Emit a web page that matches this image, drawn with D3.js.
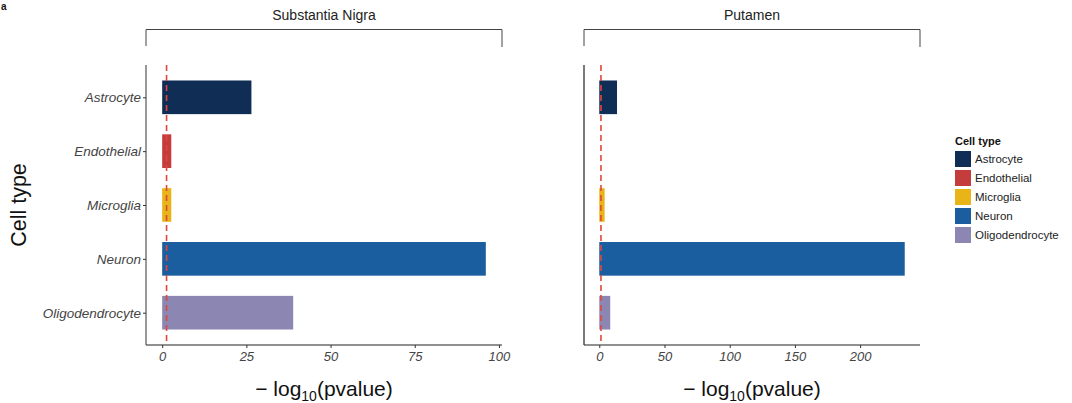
<!DOCTYPE html>
<html>
<head>
<meta charset="utf-8">
<script src="https://cdn.jsdelivr.net/npm/d3@7"></script>
<style>
  body { margin: 0; background: #fff; }
  svg { display: block; }
  text { font-family: "Liberation Sans", Arial, Helvetica, sans-serif; }
</style>
</head>
<body>
<svg id="chart" width="1072" height="403"></svg>
<script>
// Cell-type enrichment: -log10(p) per region
const cellTypes = ["Astrocyte", "Endothelial", "Microglia", "Neuron", "Oligodendrocyte"];
const regions = ["Substantia Nigra", "Putamen"];
const nigraValues = [26.5, 2.7, 2.7, 96.1, 38.9];
const putamenValues = [13.6, 0, 4.1, 234.2, 8.4];
const nigraTicks = [0, 25, 50, 75, 100];
const putamenTicks = [0, 50, 100, 150, 200];
const threshold = -Math.log10(0.05);
const cellColors = ["#0f2d55", "#c43c3c", "#e8b417", "#1b5e9f", "#8c86b2"];

const svg = d3.select("#chart");
const color = d3.scaleOrdinal().domain(cellTypes).range(cellColors);

const yTop = 65, yBottom = 345;
// discrete axis with 0.6-unit padding on each side (ggplot style)
const y = d3.scalePoint().domain(cellTypes).range([yTop, yBottom]).padding(0.6);
const barH = y.step() * 0.625;

const panels = [
  { title: regions[0], values: nigraValues, ticks: nigraTicks, x0: 146, x1: 502, axisColor: "#555" },
  { title: regions[1], values: putamenValues, ticks: putamenTicks, x0: 584, x1: 920, axisColor: "#222" }
];

// panel tag in the top-left corner
svg.append("text").attr("x", 1).attr("y", 10)
  .attr("font-size", 10).attr("font-weight", "bold").attr("fill", "#111").text("a");

panels.forEach(p => {
  const maxV = d3.max(p.values);
  const pad = maxV * 0.05;
  const x = d3.scaleLinear().domain([-pad, maxV + pad]).range([p.x0, p.x1]);
  const g = svg.append("g");

  // strip title with bracket
  const cx = (p.x0 + p.x1) / 2;
  g.append("text").attr("x", cx).attr("y", 20).attr("text-anchor", "middle")
    .attr("font-family", "Open Sans, sans-serif").attr("font-size", 14).attr("fill", "#222")
    .text(p.title);
  g.append("path")
    .attr("d", `M${p.x0},46V29.5H${p.x1}V47`)
    .attr("fill", "none").attr("stroke", "#444").attr("stroke-width", 1);

  // bars
  g.selectAll("rect.bar").data(cellTypes.map((c, i) => ({ c, v: p.values[i] })).filter(d => d.v > 0))
    .enter().append("rect").attr("class", "bar")
    .attr("x", x(0)).attr("width", d => x(d.v) - x(0))
    .attr("y", d => y(d.c) - barH / 2).attr("height", barH)
    .attr("fill", d => color(d.c));

  // significance threshold
  g.append("line").attr("x1", x(threshold)).attr("x2", x(threshold))
    .attr("y1", yTop).attr("y2", yBottom)
    .attr("stroke", "#e0463c").attr("stroke-width", 1.6).attr("stroke-dasharray", "6,4");

  // x axis
  const xAxis = d3.axisBottom(x).tickValues(p.ticks).tickSize(3).tickPadding(4).tickSizeOuter(0);
  const gx = g.append("g").attr("transform", `translate(0,${yBottom})`).call(xAxis);
  gx.select(".domain").attr("stroke", "#222").attr("stroke-width", 1.2)
    .attr("d", `M${p.x0},0H${p.x1}`);
  gx.selectAll(".tick line").attr("stroke", "#333");
  gx.selectAll(".tick text").attr("font-size", 13).attr("font-style", "italic")
    .attr("fill", "#444").attr("font-family", "Liberation Sans, Arial, sans-serif");

  // y axis
  const gy = g.append("g").attr("transform", `translate(${p.x0},0)`)
    .call(d3.axisLeft(y).tickSize(3).tickPadding(2).tickSizeOuter(0));
  gy.select(".domain").attr("stroke", p.axisColor).attr("stroke-width", 1.2)
    .attr("d", `M0,${yTop}V${yBottom}`);
  gy.selectAll(".tick line").attr("stroke", "#333");
  if (p === panels[0]) {
    gy.selectAll(".tick text").attr("font-size", 13.5).attr("font-style", "italic")
      .attr("fill", "#444").attr("font-family", "Liberation Sans, Arial, sans-serif");
  } else {
    gy.selectAll(".tick").remove();
  }

  // x title: -log10(pvalue)
  const t = g.append("text").attr("x", cx).attr("y", 396).attr("text-anchor", "middle")
    .attr("font-size", 21).attr("fill", "#111");
  t.append("tspan").text("\u2212 log");
  t.append("tspan").attr("font-size", 14).attr("dy", 5).text("10");
  t.append("tspan").attr("dy", -5).text("(pvalue)");
});

// y title
svg.append("text").attr("transform", "translate(26,205) rotate(-90)")
  .attr("text-anchor", "middle").attr("font-size", 21.5).attr("fill", "#111").text("Cell type");

// legend
const lg = svg.append("g").attr("transform", "translate(955,0)");
lg.append("text").attr("x", 0).attr("y", 145).attr("font-size", 11).attr("font-weight", "bold")
  .attr("fill", "#111").text("Cell type");
const items = lg.selectAll("g.item").data(cellTypes).enter().append("g")
  .attr("transform", (d, i) => `translate(0,${151 + i * 19})`);
items.append("rect").attr("width", 16).attr("height", 16).attr("fill", d => color(d));
items.append("text").attr("x", 20).attr("y", 12).attr("font-size", 11.5).attr("fill", "#222").text(d => d);
</script>
</body>
</html>
